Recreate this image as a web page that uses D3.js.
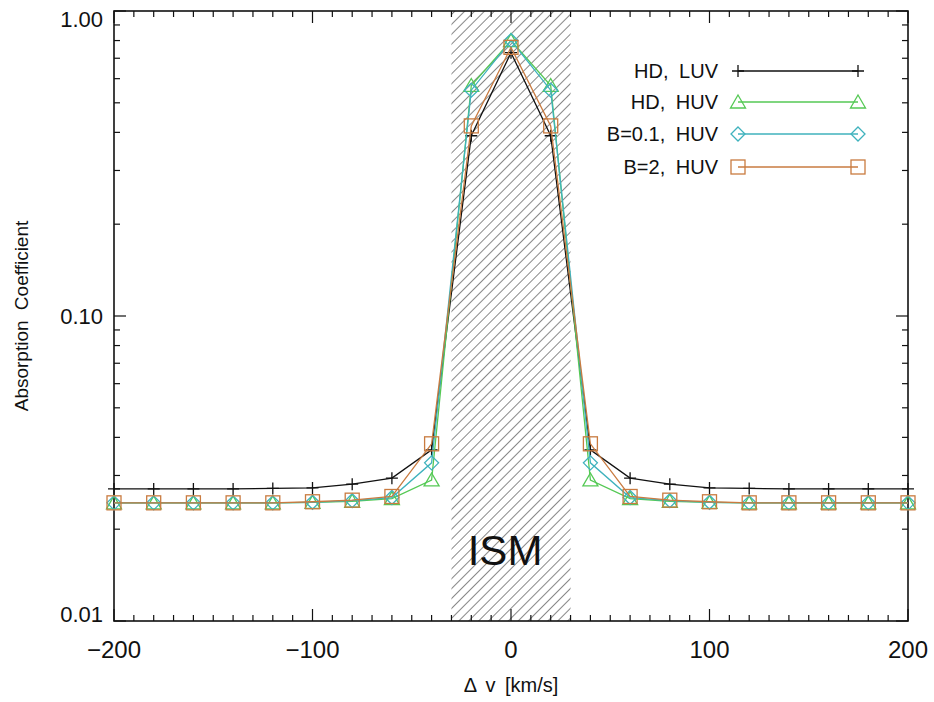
<!DOCTYPE html>
<html>
<head>
<meta charset="utf-8">
<script src="https://cdn.jsdelivr.net/npm/d3@7"></script>
<style>
  body { margin: 0; background: #fff; }
  text { font-family: "Liberation Sans", Arial, sans-serif; fill: #111; }
</style>
</head>
<body>
<div id="chart"></div>
<script>
// chart values
const velocities = [-200, -180, -160, -140, -120, -100, -80, -60, -40, -20, 0, 20, 40, 60, 80, 100, 120, 140, 160, 180, 200];
const hdLuv  = [0.0271, 0.0271, 0.0271, 0.0271, 0.0272, 0.0273, 0.0281, 0.0294, 0.0364, 0.39, 0.73, 0.39, 0.0364, 0.0294, 0.0281, 0.0273, 0.0272, 0.0271, 0.0271, 0.0271, 0.0271];
const hdHuv  = [0.0244, 0.0244, 0.0244, 0.0244, 0.0244, 0.0245, 0.0247, 0.0252, 0.029, 0.57, 0.80, 0.57, 0.029, 0.0252, 0.0247, 0.0245, 0.0244, 0.0244, 0.0244, 0.0244, 0.0244];
const b01Huv = [0.0244, 0.0244, 0.0244, 0.0244, 0.0244, 0.0245, 0.0248, 0.0254, 0.033, 0.55, 0.80, 0.55, 0.033, 0.0254, 0.0248, 0.0245, 0.0244, 0.0244, 0.0244, 0.0244, 0.0244];
const b2Huv  = [0.0244, 0.0244, 0.0244, 0.0244, 0.0244, 0.0246, 0.0249, 0.0256, 0.0381, 0.42, 0.76, 0.42, 0.0381, 0.0256, 0.0249, 0.0246, 0.0244, 0.0244, 0.0244, 0.0244, 0.0244];
const seriesNames = ["HD, LUV", "HD, HUV", "B=0.1, HUV", "B=2, HUV"];
const xTickLabels = [-200, -100, 0, 100, 200];
const yTickLabels = [0.01, 0.1, 1];
const ismRange = [-30, 30];

const width = 934, height = 702;
const margin = {top: 11, right: 26, bottom: 81, left: 114};

let svg = d3.select("#chart").append("svg")
    .attr("width", width)
    .attr("height", height);

let x = d3.scaleLinear().domain([-200, 200]).range([margin.left, width - margin.right]);
let y = d3.scaleLog().domain([0.01, 1]).range([height - margin.bottom, margin.top]);

// hatched ISM band
let defs = svg.append("defs");
defs.append("pattern")
    .attr("id", "hatch")
    .attr("patternUnits", "userSpaceOnUse")
    .attr("width", 7).attr("height", 7)
    .attr("patternTransform", "rotate(45)")
    .append("line")
    .attr("x1", 0).attr("y1", 0).attr("x2", 0).attr("y2", 7)
    .attr("stroke", "#111").attr("stroke-width", 1);

svg.append("rect")
    .attr("x", x(ismRange[0]))
    .attr("y", y(1))
    .attr("width", x(ismRange[1]) - x(ismRange[0]))
    .attr("height", y(0.01) - y(1))
    .attr("fill", "url(#hatch)");

svg.append("text")
    .attr("x", x(-3))
    .attr("y", 565)
    .attr("text-anchor", "middle")
    .style("font-size", "42px")
    .text("ISM");

// ticks (inside, all four sides)
let tickG = svg.append("g").attr("stroke", "#111").attr("stroke-width", 1.2);
d3.range(-200, 201, 10).forEach(function(v) {
    let len = (v % 100 === 0) ? 12 : 6;
    tickG.append("line").attr("x1", x(v)).attr("x2", x(v))
        .attr("y1", y(0.01)).attr("y2", y(0.01) - len);
    tickG.append("line").attr("x1", x(v)).attr("x2", x(v))
        .attr("y1", y(1)).attr("y2", y(1) + len);
});
let yTicks = [];
[0.01, 0.1].forEach(function(d) {
    for (let k = 1; k < 10; k++) yTicks.push(d * k);
});
yTicks.push(1);
yTicks.forEach(function(v) {
    let major = yTickLabels.some(function(t) { return Math.abs(t - v) < 1e-9; });
    let len = major ? 12 : 6;
    tickG.append("line").attr("x1", x(-200)).attr("x2", x(-200) + len)
        .attr("y1", y(v)).attr("y2", y(v));
    tickG.append("line").attr("x1", x(200)).attr("x2", x(200) - len)
        .attr("y1", y(v)).attr("y2", y(v));
});

// frame
svg.append("rect")
    .attr("x", x(-200)).attr("y", y(1))
    .attr("width", x(200) - x(-200)).attr("height", y(0.01) - y(1))
    .attr("fill", "none").attr("stroke", "#111").attr("stroke-width", 1.6);

// tick labels
svg.append("g").selectAll("text").data(xTickLabels).join("text")
    .attr("x", function(d) { return x(d); })
    .attr("y", 658)
    .attr("text-anchor", "middle")
    .style("font-size", "24px")
    .text(function(d) { return d < 0 ? "\u2212" + (-d) : d; });

let yLabelBase = {0.01: 622, 0.1: 324, 1: 27};
svg.append("g").selectAll("text").data(yTickLabels).join("text")
    .attr("x", 103)
    .attr("y", function(d) { return yLabelBase[d]; })
    .attr("text-anchor", "end")
    .style("font-size", "22px")
    .text(function(d) { return d.toFixed(2); });

// axis titles
svg.append("text")
    .attr("transform", `translate(28, ${(y(1) + y(0.01)) / 2}) rotate(-90)`)
    .attr("text-anchor", "middle")
    .style("font-size", "19px")
    .style("word-spacing", "5px")
    .text("Absorption Coefficient");

svg.append("text")
    .attr("x", x(0))
    .attr("y", 692)
    .attr("text-anchor", "middle")
    .style("font-size", "20px")
    .style("word-spacing", "4px")
    .text("\u0394 v [km/s]");

// series
const series = [
    {name: seriesNames[0], values: hdLuv,  color: "#111111", marker: "plus"},
    {name: seriesNames[1], values: hdHuv,  color: "#55c955", marker: "triangle"},
    {name: seriesNames[2], values: b01Huv, color: "#3fb2bd", marker: "diamond"},
    {name: seriesNames[3], values: b2Huv,  color: "#c97b40", marker: "square"}
];

function drawMarker(g, type, cx, cy, color) {
    if (type === "plus") {
        g.append("path").attr("d", `M${cx - 6},${cy}H${cx + 6}M${cx},${cy - 6}V${cy + 6}`)
            .attr("stroke", color).attr("stroke-width", 1.3).attr("fill", "none");
    } else if (type === "triangle") {
        g.append("path").attr("d", `M${cx},${cy - 7}L${cx + 7.5},${cy + 6}L${cx - 7.5},${cy + 6}Z`)
            .attr("stroke", color).attr("stroke-width", 1.3).attr("fill", "none");
    } else if (type === "diamond") {
        g.append("path").attr("d", `M${cx},${cy - 7}L${cx + 7},${cy}L${cx},${cy + 7}L${cx - 7},${cy}Z`)
            .attr("stroke", color).attr("stroke-width", 1.3).attr("fill", "none");
    } else {
        g.append("rect").attr("x", cx - 7).attr("y", cy - 7).attr("width", 14).attr("height", 14)
            .attr("stroke", color).attr("stroke-width", 1.3).attr("fill", "none");
    }
}

let line = d3.line()
    .x(function(d, i) { return x(velocities[i]); })
    .y(function(d) { return y(d); });

series.forEach(function(s) {
    let g = svg.append("g");
    g.append("path")
        .attr("d", line(s.values))
        .attr("fill", "none")
        .attr("stroke", s.color)
        .attr("stroke-width", 1.3);
    s.values.forEach(function(v, i) {
        drawMarker(g, s.marker, x(velocities[i]), y(v), s.color);
    });
});

// legend
let legendY = [71, 102, 134, 167];
series.forEach(function(s, i) {
    let g = svg.append("g");
    g.append("text")
        .attr("x", 718)
        .attr("y", legendY[i] + 7)
        .attr("text-anchor", "end")
        .style("font-size", "20px")
        .style("word-spacing", "5px")
        .text(s.name);
    g.append("line")
        .attr("x1", 738).attr("x2", 858)
        .attr("y1", legendY[i]).attr("y2", legendY[i])
        .attr("stroke", s.color).attr("stroke-width", 1.3);
    drawMarker(g, s.marker, 738, legendY[i], s.color);
    drawMarker(g, s.marker, 858, legendY[i], s.color);
});
</script>
</body>
</html>
